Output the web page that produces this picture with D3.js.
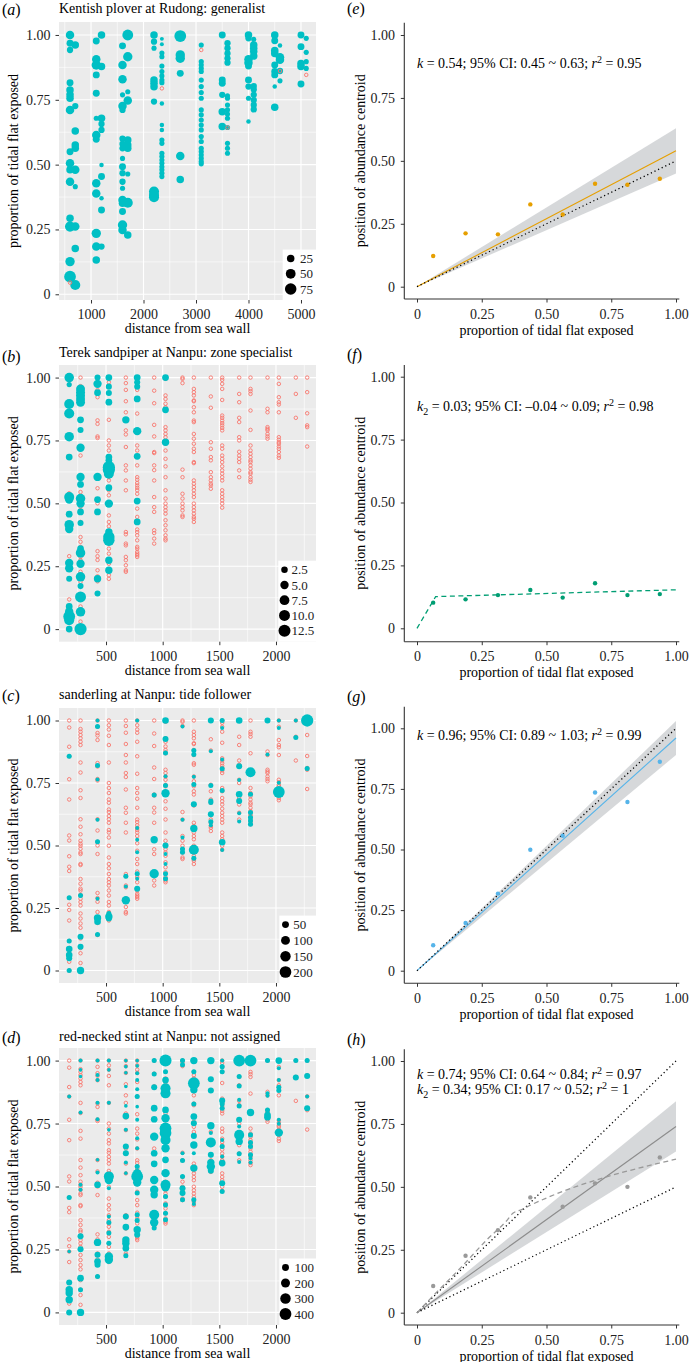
<!DOCTYPE html>
<html><head><meta charset="utf-8">
<script src="https://cdn.jsdelivr.net/npm/d3@7"></script>
<style>
body{margin:0;background:#fff;}
</style></head><body>
<svg id="c" width="691" height="1362"></svg>
<script>
// ---------------- DATA ----------------
// Panel (a) Kentish plover at Rudong: [distance, proportion, count]
const ploverPts = [
[600,1.00,35],[600,0.968,20],[600,0.942,15],[600,0.816,20],[600,0.788,25],[600,0.769,25],[600,0.756,25],[600,0.711,35],[600,0.55,20],[600,0.505,35],[600,0.48,25],[600,0.434,35],[600,0.293,25],[600,0.261,54],[600,0.126,45],[600,0.068,79],
[700,0.961,25],[700,0.726,15],[700,0.63,25],[700,0.576,25],[700,0.563,25],[700,0.48,35],[700,0.415,8],[700,0.261,35],[700,0.177,25],[700,0.036,54],
[1100,0.977,20],[1100,0.906,35],[1100,0.884,45],[1100,0.846,20],[1100,0.775,20],[1100,0.679,8],[1100,0.614,35],[1100,0.598,20],[1100,0.428,35],[1100,0.389,35],[1100,0.235,45],[1100,0.184,35],[1100,0.132,25],
[1200,1.00,25],[1200,0.878,25],[1200,0.679,25],[1200,0.657,15],[1200,0.634,15],[1200,0.499,5],[1200,0.454,20],[1200,0.37,5],[1200,0.325,20],[1200,0.184,15],
[1600,0.958,20],[1600,0.884,35],[1600,0.829,35],[1600,0.769,8],[1600,0.726,35],[1600,0.711,15],[1600,0.60,15],[1600,0.58,15],[1600,0.563,15],[1600,0.524,8],[1600,0.492,20],[1600,0.467,15],[1600,0.434,15],[1600,0.409,8],[1600,0.364,35],[1600,0.351,25],[1600,0.319,20],[1600,0.267,45],[1600,0.248,35],
[1700,1.00,65],[1700,0.916,45],[1700,0.781,8],[1700,0.747,35],[1700,0.595,25],[1700,0.576,25],[1700,0.563,25],[1700,0.464,8],[1700,0.353,54],[1700,0.229,25],
[2200,1.00,25],[2200,0.974,15],[2200,0.949,8],[2200,0.826,25],[2200,0.814,25],[2200,0.80,25],[2200,0.743,15],[2200,0.396,54],[2200,0.383,54],[2200,0.374,54],
[2350,0.985,3],[2350,0.964,3],[2350,0.93,8],[2350,0.916,8],[2350,0.88,8],[2350,0.859,8],[2350,0.842,8],[2350,0.826,8],[2350,0.816,8],[2350,0.736,5],[2350,0.653,5],[2350,0.634,5],[2350,0.595,8],[2350,0.582,8],[2350,0.544,8],[2350,0.531,8],[2350,0.518,8],[2350,0.505,8],[2350,0.492,8],[2350,0.48,8],[2350,0.467,8],[2350,0.454,8],
[2700,0.996,79],[2700,0.923,45],[2700,0.91,45],[2700,0.852,20],[2700,0.533,35],[2700,0.443,25],
[3100,0.961,8],[3100,0.897,8],[3100,0.884,8],[3100,0.871,8],[3100,0.859,8],[3100,0.826,8],[3100,0.801,8],[3100,0.778,8],[3100,0.756,8],[3100,0.711,8],[3100,0.692,8],[3100,0.672,8],[3100,0.653,8],[3100,0.634,8],[3100,0.608,8],[3100,0.589,8],[3100,0.563,8],[3100,0.55,8],[3100,0.537,8],[3100,0.524,8],[3100,0.512,8],[3100,0.503,8],
[3500,1.00,20],[3500,0.826,20],[3500,0.814,20],[3500,0.769,15],[3500,0.704,25],[3500,0.647,25],
[3600,0.968,15],[3600,0.949,15],[3600,0.929,15],[3600,0.91,15],[3600,0.893,15],[3600,0.765,8],[3600,0.756,8],[3600,0.73,8],[3600,0.711,8],[3600,0.695,8],[3600,0.679,8],[3600,0.643,8],[3600,0.582,8],[3600,0.563,8],[3600,0.544,8],
[4000,1.00,25],[4000,0.987,15],[4000,0.906,35],[4000,0.893,35],[4000,0.88,20],[4000,0.826,20],[4000,0.801,15],[4000,0.756,8],[4000,0.666,5],
[4100,0.983,8],[4100,0.961,25],[4100,0.949,25],[4100,0.936,25],[4100,0.919,25],[4100,0.803,15],[4100,0.79,15],[4100,0.769,15],[4100,0.749,15],[4100,0.73,15],[4100,0.713,15],
[4500,1.00,25],[4500,0.978,20],[4500,0.94,25],[4500,0.929,25],[4500,0.884,20],[4500,0.859,20],[4500,0.846,20],[4500,0.801,5],[4500,0.721,25],
[4600,0.959,5],[4600,0.914,35],[4600,0.904,35],[4600,0.861,15],[4600,0.823,8],
[5000,1.00,20],[5000,0.955,20],[5000,0.89,25],[5000,0.878,25],[5000,0.811,20],
[5100,0.987,8],[5100,0.933,8],[5100,0.897,8],[5100,0.871,8]
];
const ploverZero = [[600,0.045],[2350,0.794],[3100,0.942],[3600,0.643],[4600,0.861],[5100,0.846]];

// Nanpu survey grid: distance columns and surveyed proportions
const nanpuX = [175,275,425,525,675,775,925,1025,1175,1275,1425,1525,1675,1775,1925,2025,2175,2275];
const nanpuGrid = [
[1.00,0.972,0.895,0.857,0.765,0.684,0.54,0.52,0.457,0.415,0.398,0.29,0.263,0.242,0.20,0.118,0.09,0.07,0.05,0.035,0.0],
[1.00,0.966,0.955,0.942,0.929,0.915,0.902,0.832,0.792,0.721,0.69,0.605,0.575,0.545,0.519,0.507,0.499,0.487,0.472,0.466,0.426,0.422,0.366,0.347,0.327,0.32,0.303,0.287,0.274,0.26,0.228,0.208,0.188,0.171,0.136,0.128,0.09,0.069,0.03,0.0],
[1.00,0.975,0.95,0.94,0.922,0.83,0.816,0.766,0.76,0.605,0.56,0.515,0.50,0.466,0.31,0.29,0.275,0.234,0.21,0.20,0.19,0.142],
[1.00,0.981,0.964,0.939,0.902,0.832,0.75,0.73,0.71,0.684,0.671,0.644,0.634,0.618,0.605,0.591,0.562,0.552,0.532,0.499,0.452,0.426,0.409,0.386,0.366,0.353,0.34,0.32,0.30,0.274,0.26,0.234,0.228,0.214,0.20],
[1.00,0.978,0.951,0.906,0.862,0.832,0.79,0.774,0.724,0.651,0.631,0.591,0.552,0.386,0.377,0.34,0.333,0.287,0.274,0.254,0.234,0.228],
[1.00,0.981,0.964,0.951,0.915,0.857,0.787,0.73,0.71,0.687,0.651,0.604,0.594,0.581,0.571,0.562,0.552,0.538,0.509,0.479,0.446,0.426,0.396,0.386,0.373,0.353,0.327,0.32,0.307,0.30,0.294,0.287],
[1.00,0.948,0.898,0.812,0.766,0.704,0.70,0.651,0.632,0.591,0.525,0.485,0.466,0.393,0.382,0.36,0.34],
[1.00,0.995,0.929,0.915,0.896,0.882,0.872,0.869,0.803,0.79,0.776,0.763,0.743,0.737,0.71,0.677,0.647,0.604,0.552,0.519,0.499,0.485,0.472,0.459,0.433,0.413,0.393,0.373,0.36,0.353],
[1.00,0.995,0.978,0.634,0.604,0.538,0.519,0.499,0.485,0.472,0.452,0.446],
[1.00,0.955,0.942,0.929,0.909,0.906,0.882,0.862,0.829,0.823,0.776,0.757,0.737,0.717,0.704,0.664,0.660,0.591,0.578,0.565,0.552,0.538,0.525,0.499,0.485,0.472,0.459,0.446,0.439,0.426],
[1.00,0.925,0.88,0.743,0.717,0.684,0.671,0.624,0.604,0.591,0.578,0.571,0.558],
[1.00,0.991,0.975,0.955,0.911,0.849,0.84,0.829,0.819,0.81,0.80,0.79,0.73,0.717,0.69,0.677,0.664,0.647,0.631,0.618,0.604,0.591,0.552,0.538,0.525,0.512,0.499,0.483],
[1.00,0.935,0.902,0.84,0.823,0.763,0.75,0.705,0.69,0.677,0.664,0.631,0.604],
[1.00,0.955,0.946,0.935,0.869,0.792,0.73,0.71,0.697,0.684,0.671,0.664,0.651,0.638,0.624,0.618,0.604,0.594,0.585],
[1.00,0.876,0.862,0.803,0.796,0.79,0.776,0.766,0.757],
[1.00,0.975,0.922,0.902,0.893,0.862,0.763,0.753,0.743,0.737,0.726,0.717,0.704,0.69,0.681],
[1.00,0.935,0.84],
[1.00,0.942,0.858,0.81,0.803,0.726]
];

// Panel (b) Terek sandpiper counts
const terekPts = [
[175,1.00,7],[175,0.972,1.2],[175,0.895,8],[175,0.857,8],[175,0.765,7],[175,0.684,2.8],[175,0.525,8],[175,0.515,5],[175,0.457,2.8],[175,0.415,7],[175,0.398,5],[175,0.263,5],[175,0.242,5],[175,0.20,2],[175,0.09,2.8],[175,0.07,5],[175,0.05,12],[175,0.035,8],[175,0.0,2.8],
[275,0.955,6],[275,0.942,6],[275,0.929,6],[275,0.915,6],[275,0.902,6],[275,0.832,2.8],[275,0.792,2],[275,0.721,5],[275,0.605,5],[275,0.575,2.8],[275,0.519,7],[275,0.499,5],[275,0.466,2.8],[275,0.422,2],[275,0.32,2.8],[275,0.303,7],[275,0.26,5],[275,0.208,7],[275,0.171,2],[275,0.128,10],[275,0.069,7],[275,0.0,13],
[425,1.00,2],[425,0.975,5],[425,0.94,2.8],[425,0.605,5],[425,0.515,2.8],[425,0.466,2.8],[425,0.20,3.6],[425,0.142,2],
[525,1.00,2.8],[525,0.964,2],[525,0.939,2],[525,0.902,2.8],[525,0.684,2.8],[525,0.671,2.8],[525,0.644,13],[525,0.634,13],[525,0.618,8],[525,0.562,2.8],[525,0.499,5],[525,0.386,3.6],[525,0.366,11],[525,0.353,11],[525,0.274,3.6],[525,0.234,3.6],
[675,0.832,3.6],
[775,1.00,2.8],[775,0.981,2],[775,0.964,2],[775,0.915,2.8],[775,0.787,5],[775,0.687,2.8],[775,0.509,2.8],[775,0.426,2.8],
[1025,1.00,2.8],[1025,0.872,2.8],[1025,0.743,3.6]
];

// Panel (c) sanderling counts
const sanderlingPts = [
[175,0.857,19],[175,0.291,19],[175,0.118,19],[175,0.086,45],[175,0.062,45],[175,0.049,34],[175,0.0,19],
[275,0.30,19],[275,0.135,34],[275,0.095,34],[275,0.0,61],
[425,1.00,8],[425,0.976,19],[425,0.82,19],[425,0.764,8],[425,0.603,8],[425,0.515,19],[425,0.287,8],[425,0.21,61],[425,0.195,45],[425,0.144,19],
[525,0.228,19],[525,0.215,61],[525,0.208,34],
[675,0.377,19],[675,0.336,8],[675,0.281,86],
[775,1.00,8],[775,0.57,8],[775,0.523,8],[775,0.473,8],[775,0.387,19],[775,0.367,8],[775,0.327,34],
[925,0.702,19],[925,0.523,61],[925,0.387,115],
[1025,1.00,45],[1025,0.926,34],[1025,0.87,19],[1025,0.777,8],[1025,0.74,19],[1025,0.709,86],[1025,0.50,34],[1025,0.466,8],[1025,0.426,8],[1025,0.387,19],[1025,0.367,19],
[1175,0.976,8],[1175,0.603,8],[1175,0.532,8],[1175,0.486,19],[1175,0.473,19],
[1275,0.88,19],[1275,0.864,19],[1275,0.775,8],[1275,0.744,19],[1275,0.665,34],[1275,0.568,61],[1275,0.483,138],[1275,0.449,19],
[1425,1.00,34],[1425,0.877,8],[1425,0.74,19],[1425,0.678,19],[1425,0.672,19],[1425,0.625,34],[1425,0.595,19],[1425,0.581,8],
[1525,1.00,19],[1525,0.97,8],[1525,0.844,8],[1525,0.807,19],[1525,0.72,19],[1525,0.513,45],[1525,0.482,8],
[1675,1.00,45],[1675,0.817,34],[1675,0.762,8],[1675,0.705,45],[1675,0.678,34],[1675,0.629,8],[1675,0.596,8],
[1775,0.793,138],[1775,0.705,19],[1775,0.632,19],[1775,0.612,19],[1775,0.599,19],[1775,0.585,19],
[1925,1.00,34],[1925,0.864,8],
[2025,1.00,8],[2025,0.97,8],[2025,0.751,8],[2025,0.714,202],
[2175,1.00,8],[2175,0.932,19],
[2275,1.00,225],[2275,0.808,19]
];

// Panel (d) red-necked stint counts
const stintPts = [
[175,0.857,16],[175,0.456,37],[175,0.242,10],[175,0.119,67],[175,0.09,120],[175,0.077,120],[175,0.05,120],[175,0.0,67],
[275,1.00,16],[275,0.963,10],[275,0.937,10],[275,0.794,16],[275,0.507,16],[275,0.487,16],[275,0.302,67],[275,0.251,67],[275,0.136,90],[275,0.09,37],[275,0.0,120],
[425,1.00,16],[425,0.943,16],[425,0.923,16],[425,0.833,16],[425,0.767,16],[425,0.606,10],[425,0.556,16],[425,0.507,90],[425,0.278,120],[425,0.229,67],[425,0.202,90],[425,0.189,67],[425,0.143,37],
[525,1.00,16],[525,0.963,10],[525,0.833,16],[525,0.725,10],[525,0.54,270],[525,0.526,169],[525,0.493,16],[525,0.381,16],[525,0.357,37],[525,0.315,37],[525,0.275,37],[525,0.222,169],[525,0.209,169],
[675,1.00,10],[675,0.976,10],[675,0.952,10],[675,0.897,10],[675,0.82,10],[675,0.78,90],[675,0.725,16],[675,0.659,67],[675,0.632,67],[675,0.595,16],[675,0.553,10],[675,0.381,67],[675,0.339,90],[675,0.288,120],[675,0.275,120],[675,0.255,90],[675,0.225,37],
[775,1.00,10],[775,0.979,10],[775,0.95,16],[775,0.923,16],[775,0.886,16],[775,0.857,37],[775,0.817,10],[775,0.765,16],[775,0.692,16],[775,0.652,16],[775,0.579,37],[775,0.553,169],[775,0.54,396],[775,0.516,169],[775,0.474,37],[775,0.388,37],[775,0.365,37],[775,0.328,120],[775,0.308,67],
[925,1.00,37],[925,0.947,37],[925,0.894,67],[925,0.811,90],[925,0.767,90],[925,0.698,169],[925,0.632,90],[925,0.59,90],[925,0.526,169],[925,0.487,169],[925,0.467,120],[925,0.388,270],[925,0.357,169],[925,0.335,37],
[1025,1.00,420],[1025,0.956,37],[1025,0.923,90],[1025,0.89,270],[1025,0.87,270],[1025,0.804,90],[1025,0.771,169],[1025,0.731,396],[1025,0.712,396],[1025,0.685,270],[1025,0.652,169],[1025,0.606,90],[1025,0.553,169],[1025,0.507,270],[1025,0.497,169],[1025,0.46,37],[1025,0.427,37],[1025,0.394,37],[1025,0.368,37],
[1175,1.00,37],[1175,0.983,37],[1175,0.632,16],[1175,0.603,37],[1175,0.54,37],[1175,0.493,67],[1175,0.474,67],[1175,0.447,37],
[1275,1.00,120],[1275,0.956,37],[1275,0.91,396],[1275,0.884,120],[1275,0.828,37],[1275,0.778,90],[1275,0.751,67],[1275,0.701,67],[1275,0.665,120],[1275,0.632,16],[1275,0.573,120],[1275,0.447,37],[1275,0.431,16],
[1425,1.00,120],[1425,0.926,67],[1425,0.881,67],[1425,0.741,120],[1425,0.712,16],[1425,0.675,270],[1425,0.626,67],[1425,0.595,120],[1425,0.579,169],[1425,0.563,67],
[1525,1.00,16],[1525,0.976,37],[1525,0.956,37],[1525,0.841,67],[1525,0.828,37],[1525,0.811,37],[1525,0.685,16],[1525,0.659,37],[1525,0.619,16],[1525,0.593,90],[1525,0.513,67],[1525,0.48,37],
[1675,1.00,396],[1675,0.937,37],[1675,0.899,37],[1675,0.844,16],[1675,0.82,37],[1675,0.765,67],[1675,0.738,16],[1675,0.705,270],[1675,0.679,120],[1675,0.63,37],[1675,0.597,16],
[1775,1.00,396],[1775,0.794,120],[1775,0.705,37],[1775,0.675,37],[1775,0.659,37],[1775,0.626,37],[1775,0.612,16],[1775,0.595,16],
[1925,1.00,37],[1925,0.87,16],[1925,0.86,16],[1925,0.804,37],[1925,0.784,90],[1925,0.775,90],
[2025,1.00,90],[2025,0.97,16],[2025,0.923,16],[2025,0.894,37],[2025,0.881,37],[2025,0.765,16],[2025,0.749,16],[2025,0.714,169],
[2175,1.00,37],[2175,0.933,67],
[2275,1.00,37],[2275,0.939,67],[2275,0.857,16],[2275,0.811,67]
];

// Right panels: binned proportion exposed vs centroid position
const binX = [0.0625,0.1875,0.3125,0.4375,0.5625,0.6875,0.8125,0.9375];
const centroidE = [0.122,0.212,0.208,0.327,0.287,0.409,0.405,0.429];
const centroidF = [0.102,0.115,0.132,0.152,0.122,0.179,0.132,0.136];
const centroidG = [0.105,0.197,0.318,0.499,0.557,0.735,0.696,0.862];
const centroidH = [0.106,0.226,0.328,0.458,0.421,0.514,0.500,0.617];
// slope fits through origin: [k, lower CI, upper CI]
const fitE = [0.54,0.45,0.63];
const fitG = [0.96,0.89,1.03];
const fitH = [0.74,0.64,0.84];
// segmented fits
const segF = [[0,0],[0.072,0.126],[1,0.153]];
const segH = [[0,0],[0.07,0.075],[0.17,0.18],[0.27,0.29],[0.35,0.37],[0.37,0.395],[0.40,0.408],[0.44,0.428],[1.0,0.61]];
// reference slopes (dotted)
const refE = [0.5], refF = [], refG = [1], refH = [1,0.5];

const titles = ["Kentish plover at Rudong: generalist","Terek sandpiper at Nanpu: zone specialist","sanderling at Nanpu: tide follower","red-necked stint at Nanpu: not assigned"];
const yTickVals = [0,0.25,0.5,0.75,1];
const xTicksRudong = [1000,2000,3000,4000,5000];
const xTicksNanpu = [500,1000,1500,2000];
const legendA = [25,50,75], legendB = [2.5,5,7.5,10,12.5], legendC = [50,100,150,200], legendD = [100,200,300,400];
const annE = [["k","i"],[" = 0.54; 95% CI: 0.45 ~ 0.63; ",""],["r","i"],["2","sup"],[" = 0.95",""]];
const annF = [["k","i"],["2","sub"],[" = 0.03; 95% CI: \u20130.04 ~ 0.09; ",""],["r","i"],["2","sup"],[" = 0.98",""]];
const annG = [["k","i"],[" = 0.96; 95% CI: 0.89 ~ 1.03; ",""],["r","i"],["2","sup"],[" = 0.99",""]];
const annH1 = [["k","i"],[" = 0.74; 95% CI: 0.64 ~ 0.84; ",""],["r","i"],["2","sup"],[" = 0.97",""]];
const annH2 = [["k","i"],["2","sub"],[" = 0.34; 95% CI: 0.17 ~ 0.52; ",""],["r","i"],["2","sup"],[" = 1",""]];

// ---------------- DRAWING ----------------
const FONT = "'Liberation Serif','Times New Roman',serif";
const CYAN = "#00BFC4", RED = "#F8766D";
const svg = d3.select("#c").attr("font-family", FONT);
svg.append("rect").attr("width",691).attr("height",1362).attr("fill","#fff");
const L = 59, R = 316;
const fmtP = d => d === 0 ? "0" : d3.format(".2f")(d);

function letter(x, y, ch) {
  const t = svg.append("text").attr("x", x).attr("y", y).attr("font-size", 16).attr("fill", "#000");
  t.append("tspan").text("(");
  t.append("tspan").attr("font-style","italic").text(ch);
  t.append("tspan").text(")");
}

function styleAxis(sel) {
  sel.attr("font-size", 14).attr("font-family", FONT);
  sel.select(".domain").remove();
  sel.selectAll(".tick line").attr("stroke", "#333").attr("stroke-width", 1);
  sel.selectAll(".tick text").attr("fill", "#222");
}

function drawLeft(p) {
  const x = d3.scaleLinear().domain(p.xDomain).range([L, R]);
  const y = d3.scaleLinear().domain(p.yDomain).range([p.bottom, p.top]);
  const r = d3.scaleSqrt().domain([0, p.vmax]).range([1.03, 6.2]);
  const g = svg.append("g");
  g.append("rect").attr("x", L).attr("y", p.top).attr("width", R - L).attr("height", p.bottom - p.top).attr("fill", "#EBEBEB");
  const gl = g.append("g").attr("stroke", "#fff");
  p.xMinor.forEach(v => gl.append("line").attr("x1", x(v)).attr("x2", x(v)).attr("y1", p.top).attr("y2", p.bottom).attr("stroke-width", 0.6));
  [0.125,0.375,0.625,0.875].forEach(v => gl.append("line").attr("x1", L).attr("x2", R).attr("y1", y(v)).attr("y2", y(v)).attr("stroke-width", 0.6));
  p.xTicks.forEach(v => gl.append("line").attr("x1", x(v)).attr("x2", x(v)).attr("y1", p.top).attr("y2", p.bottom).attr("stroke-width", 1.15));
  yTickVals.forEach(v => gl.append("line").attr("x1", L).attr("x2", R).attr("y1", y(v)).attr("y2", y(v)).attr("stroke-width", 1.15));

  const cid = "clip" + p.id;
  svg.append("clipPath").attr("id", cid).append("rect").attr("x", L).attr("y", p.top).attr("width", R - L).attr("height", p.bottom - p.top);
  const pg = g.append("g").attr("clip-path", `url(#${cid})`);
  if (p.useGrid) {
    const pts = [];
    nanpuX.forEach((xv, i) => nanpuGrid[i].forEach(yv => pts.push([xv, yv])));
    pg.append("g").selectAll("circle").data(pts).join("circle")
      .attr("cx", d => x(d[0])).attr("cy", d => y(d[1])).attr("r", 1.75)
      .attr("fill", "none").attr("stroke", RED).attr("stroke-width", 0.9);
  }
  const cy = p.pts.slice().sort((a, b) => b[2] - a[2]);
  pg.append("g").selectAll("circle").data(cy).join("circle")
    .attr("cx", d => x(d[0])).attr("cy", d => y(d[1])).attr("r", d => r(d[2])).attr("fill", CYAN);
  if (p.zeros) {
    pg.append("g").selectAll("circle").data(p.zeros).join("circle")
      .attr("cx", d => x(d[0])).attr("cy", d => y(d[1])).attr("r", 1.75)
      .attr("fill", "none").attr("stroke", RED).attr("stroke-width", 0.9);
  }
  // axes
  g.append("g").attr("transform", `translate(${L},0)`)
    .call(d3.axisLeft(y).tickValues(yTickVals).tickFormat(fmtP).tickSize(3.5).tickPadding(5)).call(styleAxis);
  const xpad = p.labelBase - p.bottom - 3.5 - 0.71 * 14;
  g.append("g").attr("transform", `translate(0,${p.bottom})`)
    .call(d3.axisBottom(x).tickValues(p.xTicks).tickFormat(d3.format("d")).tickSize(3.5).tickPadding(xpad)).call(styleAxis);
  // titles
  g.append("text").attr("x", (L + R) / 2).attr("y", p.bottom + 33).attr("text-anchor", "middle").attr("font-size", 14).text("distance from sea wall");
  g.append("text").attr("transform", `translate(18,${(p.top + p.bottom) / 2}) rotate(-90)`).attr("text-anchor", "middle").attr("font-size", 14).text("proportion of tidal flat exposed");
  g.append("text").attr("x", L).attr("y", p.titleBase).attr("font-size", 14).text(p.title);
  letter(2, p.letterBase, p.letter);
  // legend
  const lg = p.legend;
  const n = lg.breaks.length;
  const rows = lg.breaks.map((b, i) => p.bottom - 11 - (n - 1 - i) * lg.step);
  g.append("rect").attr("x", lg.left).attr("y", rows[0] - 9).attr("width", R - lg.left).attr("height", p.bottom - rows[0] + 9).attr("fill", "#fff");
  lg.breaks.forEach((b, i) => {
    g.append("circle").attr("cx", lg.cx).attr("cy", rows[i]).attr("r", r(b)).attr("fill", "#000");
    g.append("text").attr("x", lg.tx).attr("y", rows[i]).attr("dy", "0.35em").attr("font-size", 13).attr("fill", "#222").text(lg.fmt(b));
  });
}

function annot(g, x, y, parts) {
  const t = g.append("text").attr("x", x).attr("y", y).attr("font-size", 14).attr("fill", "#000");
  let shift = 0;
  parts.forEach(([s, st]) => {
    const ts = t.append("tspan").text(s);
    let target = 0;
    if (st === "i") ts.attr("font-style", "italic");
    if (st === "sup") { target = -5; ts.attr("font-size", 10); }
    if (st === "sub") { target = 3.5; ts.attr("font-size", 10); }
    if (target !== shift) { ts.attr("dy", target - shift); shift = target; }
  });
}

function drawRight(p) {
  const x = d3.scaleLinear().domain([0, 1]).range([417, 676]);
  const y = d3.scaleLinear().domain([0, 1]).range([p.y0, p.y1]);
  const g = svg.append("g");
  if (p.fit) {
    const f = p.fit;
    g.append("path").datum([0, 1]).attr("fill", "#999da3").attr("fill-opacity", 0.4)
      .attr("d", d3.area().x(t => x(t)).y0(t => y(f[1] * t)).y1(t => y(f[2] * t)));
    g.append("path").datum([0, 1]).attr("fill", "none").attr("stroke", p.lineColor).attr("stroke-width", 1.1)
      .attr("d", d3.line().x(t => x(t)).y(t => y(f[0] * t)));
  }
  p.refs.forEach(k => {
    g.append("path").datum([0, 1]).attr("fill", "none").attr("stroke", "#000").attr("stroke-width", 1.3)
      .attr("stroke-dasharray", "1.2,2.8")
      .attr("d", d3.line().x(t => x(t)).y(t => y(k * t)));
  });
  if (p.seg) {
    g.append("path").datum(p.seg).attr("fill", "none").attr("stroke", p.segColor).attr("stroke-width", 1.3)
      .attr("stroke-dasharray", "5,3.5")
      .attr("d", d3.line().x(d => x(d[0])).y(d => y(d[1])).curve(p.segCurve || d3.curveLinear));
  }
  g.append("g").selectAll("circle").data(binX.map((b, i) => [b, p.vals[i]])).join("circle")
    .attr("cx", d => x(d[0])).attr("cy", d => y(d[1])).attr("r", 2.2).attr("fill", p.color);
  // axes lines
  g.append("line").attr("x1", 404.3).attr("x2", 404.3).attr("y1", p.axTop).attr("y2", p.axY).attr("stroke", "#333").attr("stroke-width", 1.1);
  g.append("line").attr("x1", 404.3).attr("x2", 679.3).attr("y1", p.axY).attr("y2", p.axY).attr("stroke", "#333").attr("stroke-width", 1.1);
  g.append("g").attr("transform", "translate(404.3,0)")
    .call(d3.axisLeft(y).tickValues(yTickVals).tickFormat(fmtP).tickSize(3.5).tickPadding(5.8)).call(styleAxis);
  g.append("g").attr("transform", `translate(0,${p.axY})`)
    .call(d3.axisBottom(x).tickValues(yTickVals).tickFormat(fmtP).tickSize(3.5).tickPadding(19.5 - 3.5 - 0.71 * 14)).call(styleAxis);
  g.append("text").attr("x", 546.5).attr("y", p.axY + 35.5).attr("text-anchor", "middle").attr("font-size", 14).text("proportion of tidal flat exposed");
  g.append("text").attr("transform", `translate(364.5,${(p.axTop + p.axY) / 2}) rotate(-90)`).attr("text-anchor", "middle").attr("font-size", 14).text("position of abundance centroid");
  p.ann.forEach(([parts, yb]) => annot(g, 417, yb, parts));
  letter(347, p.letterBase, p.letter);
}

// left column
drawLeft({id:"a", top:22, bottom:300, xDomain:[390,5286], yDomain:[-0.022,1.05], xTicks:xTicksRudong, xMinor:[500,1500,2500,3500,4500],
  pts:ploverPts, zeros:ploverZero, useGrid:false, vmax:90, title:titles[0], titleBase:12.5, letter:"a", letterBase:15, labelBase:319,
  legend:{breaks:legendA, left:282.7, cx:290.7, tx:300, step:15.2, fmt:d3.format("d")}});
drawLeft({id:"b", top:365, bottom:641.7, xDomain:[85,2353], yDomain:[-0.05,1.05], xTicks:xTicksNanpu, xMinor:[250,750,1250,1750,2250],
  pts:terekPts, useGrid:true, vmax:13.5, title:titles[1], titleBase:357.3, letter:"b", letterBase:361.5, labelBase:660.7,
  legend:{breaks:legendB, left:278.3, cx:284.5, tx:291.5, step:15.25, fmt:d3.format(".1f")}});
drawLeft({id:"c", top:708, bottom:983, xDomain:[85,2353], yDomain:[-0.05,1.05], xTicks:xTicksNanpu, xMinor:[250,750,1250,1750,2250],
  pts:sanderlingPts, useGrid:true, vmax:230, title:titles[2], titleBase:699, letter:"c", letterBase:701, labelBase:1002,
  legend:{breaks:legendC, left:279.3, cx:285.5, tx:293.3, step:15.8, fmt:d3.format("d")}});
drawLeft({id:"d", top:1048, bottom:1325, xDomain:[85,2353], yDomain:[-0.05,1.05], xTicks:xTicksNanpu, xMinor:[250,750,1250,1750,2250],
  pts:stintPts, useGrid:true, vmax:450, title:titles[3], titleBase:1040.7, letter:"d", letterBase:1043.3, labelBase:1344,
  legend:{breaks:legendD, left:279.3, cx:285.5, tx:294.5, step:15.5, fmt:d3.format("d")}});

// right column
drawRight({letter:"e", letterBase:14.3, axTop:22.7, axY:299, y0:286.7, y1:35, fit:fitE, lineColor:"#E69F00", refs:refE,
  vals:centroidE, color:"#E69F00", ann:[[annE,68]]});
drawRight({letter:"f", letterBase:360, axTop:365, axY:641.7, y0:628.3, y1:376.7, refs:refF, seg:segF, segColor:"#009E73",
  vals:centroidF, color:"#009E73", ann:[[annF,411]]});
drawRight({letter:"g", letterBase:701.7, axTop:706.7, axY:983.3, y0:970.7, y1:728.3, fit:fitG, lineColor:"#56B4E9", refs:refG,
  vals:centroidG, color:"#56B4E9", ann:[[annG,740]]});
drawRight({letter:"h", letterBase:1045, axTop:1049.3, axY:1325, y0:1312.7, y1:1061, fit:fitH, lineColor:"#8c8c8c", refs:refH,
  seg:segH, segColor:"#999", segCurve:d3.curveMonotoneX, vals:centroidH, color:"#999", ann:[[annH1,1078.5],[annH2,1094]]});
</script>
</body></html>
